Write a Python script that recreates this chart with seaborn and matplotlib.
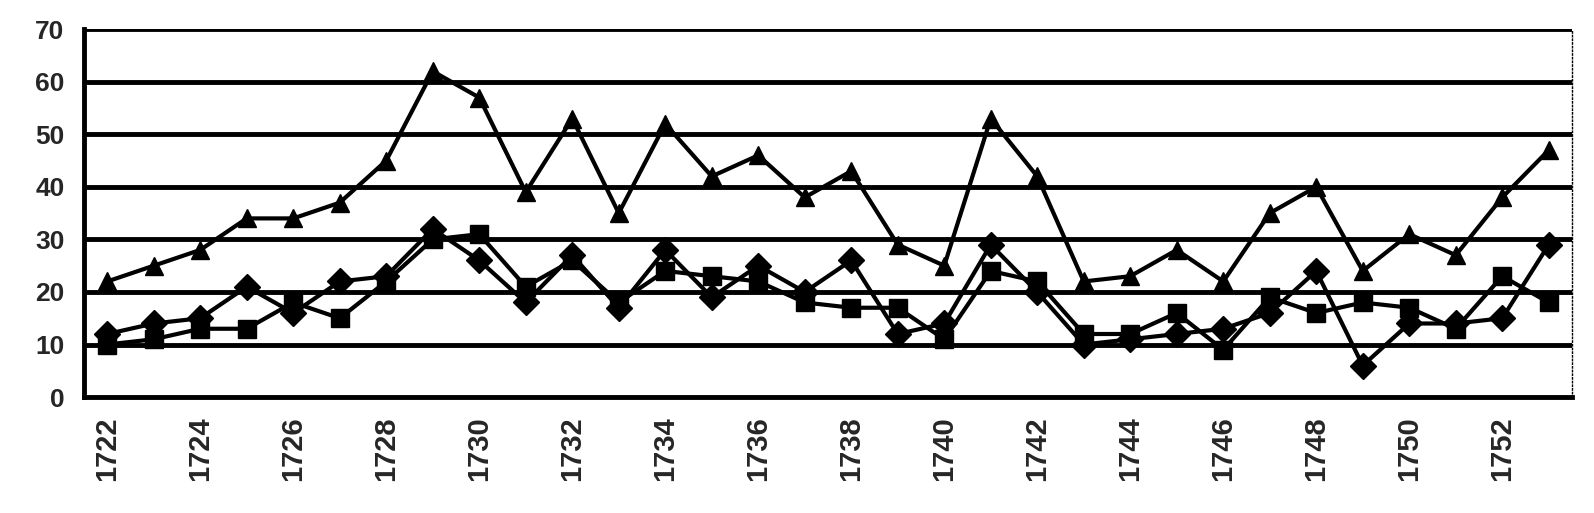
import numpy as np
import pandas as pd
import matplotlib
matplotlib.use('Agg')
import matplotlib.pyplot as plt
import seaborn as sns

years = list(range(1722, 1754))

triangle = [22, 25, 28, 34, 34, 37, 45, 62, 57, 39, 53, 35, 52, 42, 46, 38,
            43, 29, 25, 53, 42, 22, 23, 28, 22, 35, 40, 24, 31, 27, 38, 47]
diamond = [12, 14, 15, 21, 16, 22, 23, 32, 26, 18, 27, 17, 28, 19, 25, 20,
           26, 12, 14, 29, 20, 10, 11, 12, 13, 16, 24, 6, 14, 14, 15, 29]
square = [10, 11, 13, 13, 18, 15, 22, 30, 31, 21, 26, 18, 24, 23, 22, 18,
          17, 17, 11, 24, 22, 12, 12, 16, 9, 19, 16, 18, 17, 13, 23, 18]

series_names = ['triangle', 'diamond', 'square']
series_vals = [triangle, diamond, square]

pos = np.arange(len(years))
df = pd.concat([pd.DataFrame({'pos': pos, 'value': v, 'series': n})
                for n, v in zip(series_names, series_vals)])

sns.set_style('white')
plt.rcParams['font.family'] = ['Liberation Sans', 'DejaVu Sans']

fig = plt.figure(figsize=(15.94, 5.13), dpi=100)
ax = fig.add_axes([0.0527, 0.226, 0.9335, 0.717])

sns.lineplot(data=df, x='pos', y='value', style='series', hue='series',
             palette=['black'] * 3, markers={'triangle': '^', 'diamond': 'D', 'square': 's'},
             dashes=False, markersize=13, linewidth=3, legend=False, ax=ax,
             markeredgecolor='black', markeredgewidth=1)

ax.set_xlim(-0.5, len(years) - 0.5)
ax.set_ylim(0, 70)
ax.set_yticks(range(0, 71, 10))
for y in range(10, 71, 10):
    ax.axhline(y, color='black', linewidth=3.5, zorder=0)

ax.set_xticks(pos[::2])
ax.set_xticklabels([str(y) for y in years[::2]], rotation=90)
ax.set_xticks(np.arange(-0.5, len(years), 1), minor=True)
ax.tick_params(axis='x', which='major', length=0, pad=14, labelsize=21)
ax.tick_params(axis='x', which='minor', length=7, width=2.5, direction='out', color='black')
ax.tick_params(axis='y', length=8, width=2.5, direction='out', color='black', labelsize=19, pad=6)
for lab in ax.get_xticklabels() + ax.get_yticklabels():
    lab.set_fontweight('bold')

ax.set_xlabel('')
ax.set_ylabel('')
ax.spines['left'].set_linewidth(3.5)
ax.spines['bottom'].set_linewidth(3.5)
ax.spines['top'].set_visible(False)
ax.spines['right'].set_linewidth(1)
ax.spines['right'].set_linestyle(':')
for s in ax.spines.values():
    s.set_color('black')

fig.savefig('out.png', dpi=100)
